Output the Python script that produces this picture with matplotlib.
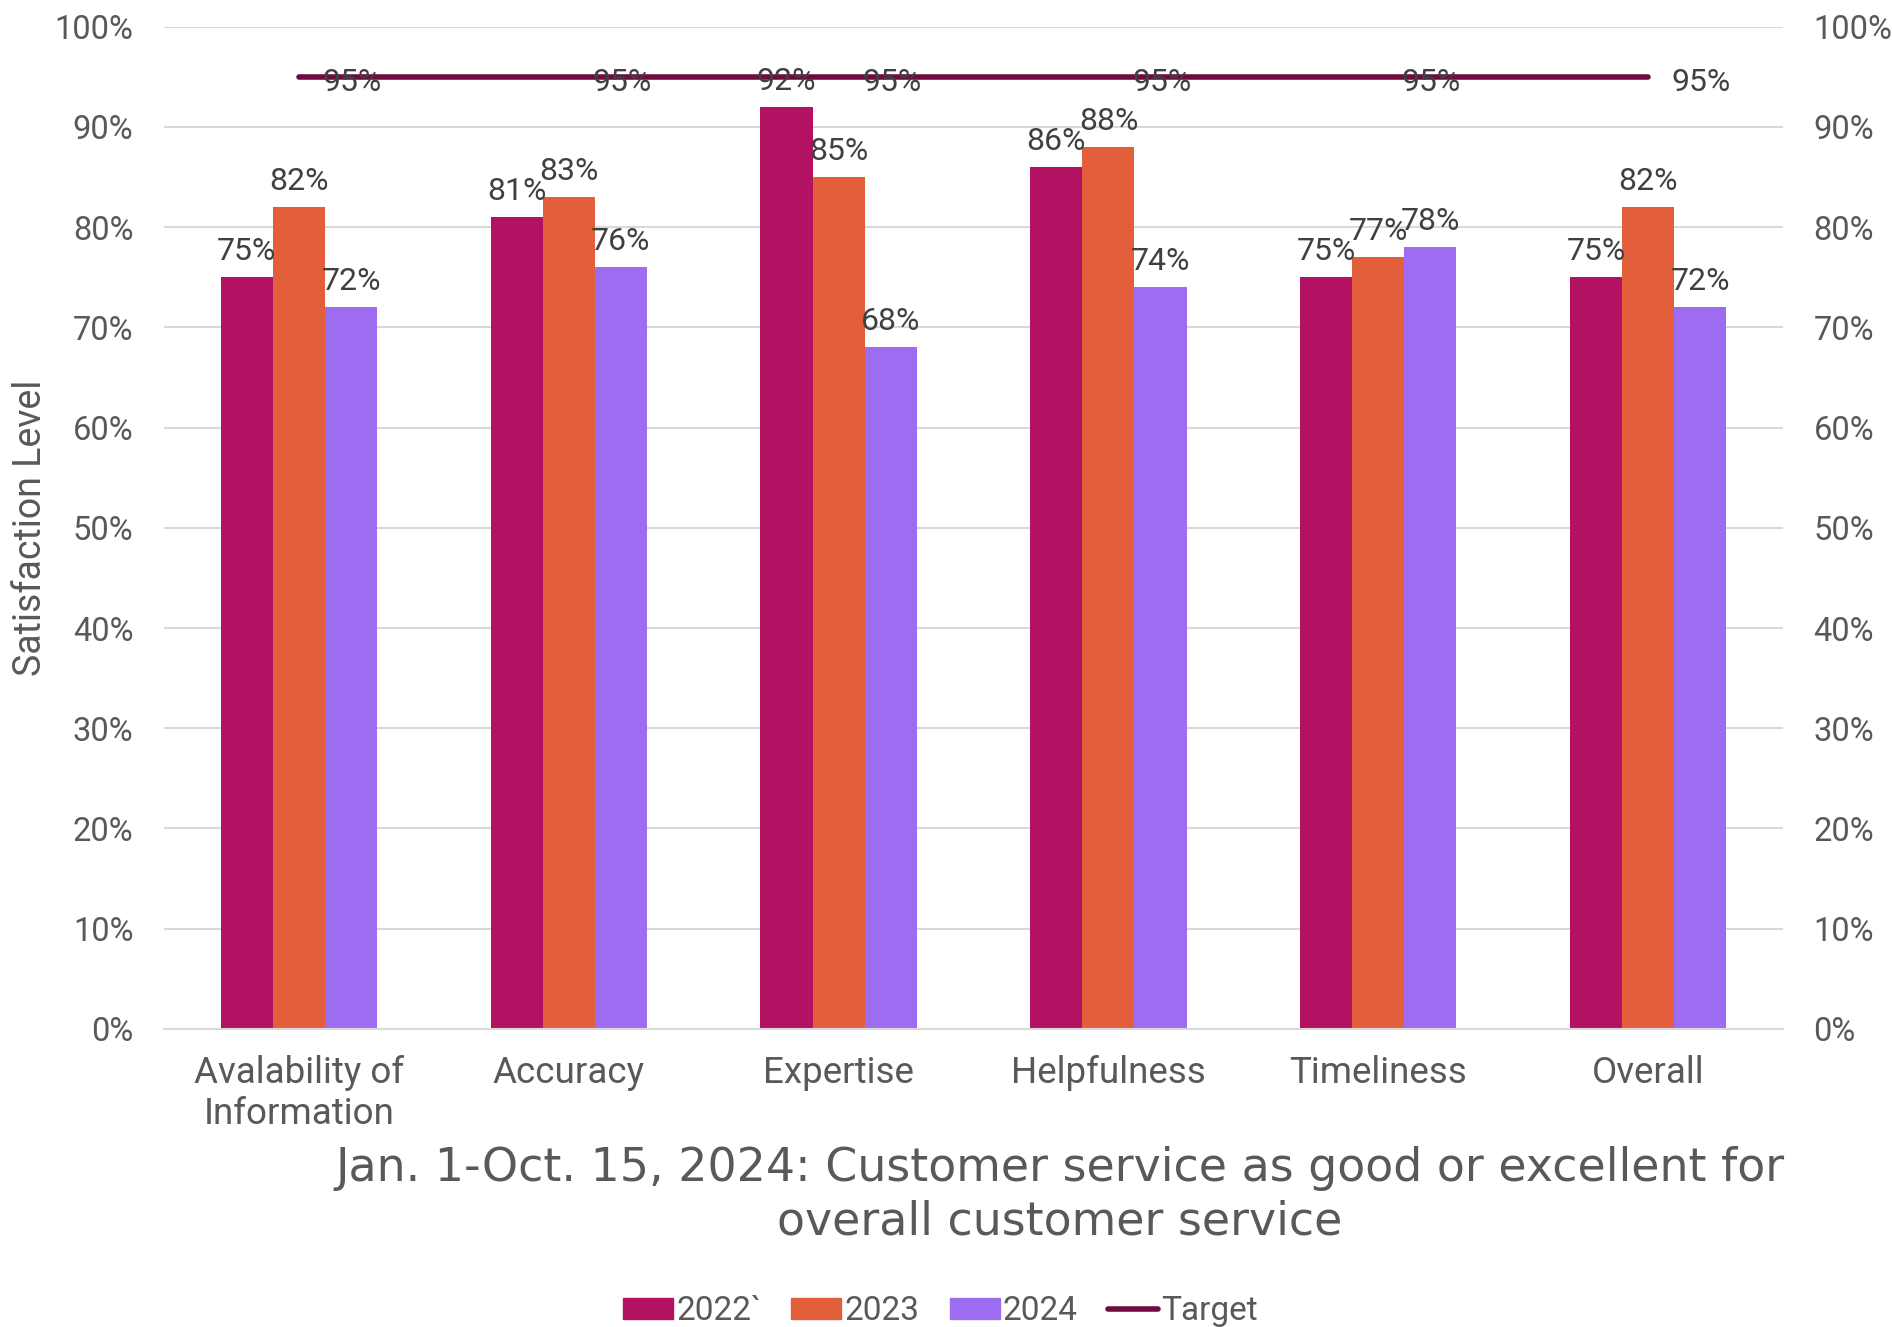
import matplotlib.pyplot as plt
import numpy as np
from matplotlib.ticker import PercentFormatter
from matplotlib.lines import Line2D
from matplotlib.patches import Patch

categories = ["Avalability of\nInformation", "Accuracy", "Expertise",
              "Helpfulness", "Timeliness", "Overall"]
y2022 = [75, 81, 92, 86, 75, 75]
y2023 = [82, 83, 85, 88, 77, 82]
y2024 = [72, 76, 68, 74, 78, 72]
target = [95, 95, 95, 95, 95, 95]

c2022 = "#B31262"
c2023 = "#E35F3C"
c2024 = "#9D6CF0"
ctarget = "#6E0B3F"
grey = "#595959"

plt.rcParams['font.family'] = ['Roboto', 'DejaVu Sans']

fig = plt.figure(figsize=(18.92, 13.27), dpi=100)
ax = fig.add_axes([0.0867, 0.2246, 0.8557, 0.7553])

x = np.arange(len(categories))
w = 0.193

for i, (vals, col) in enumerate([(y2022, c2022), (y2023, c2023), (y2024, c2024)]):
    ax.bar(x + (i - 1) * w, vals, width=w, color=col, zorder=2)
    for xi, v in zip(x + (i - 1) * w, vals):
        ax.annotate(f"{v}%", (xi, v), xytext=(0, 8), textcoords="offset points",
                    ha="center", va="bottom", fontsize=23, color="#404040", zorder=5)

ax.plot(x, target, color=ctarget, lw=4, solid_capstyle="round", zorder=3)
for xi, v in zip(x, target):
    ax.annotate(f"{v}%", (xi, v), xytext=(17, -4), textcoords="offset points",
                ha="left", va="center", fontsize=23, color="#404040", zorder=5)

ax.set_xlim(-0.5, len(categories) - 0.5)
ax.set_ylim(0, 100)
ax.set_yticks(range(0, 101, 10))
ax.yaxis.set_major_formatter(PercentFormatter(decimals=0))
ax.grid(axis="y", color="#D9D9D9", lw=1.5, zorder=0)
ax.set_axisbelow(True)
for s in ["top", "right", "left"]:
    ax.spines[s].set_visible(False)
ax.spines["bottom"].set_color("#D9D9D9")
ax.spines["bottom"].set_linewidth(1.5)
ax.tick_params(axis="y", length=0, labelsize=23.5, labelcolor=grey, pad=22)
ax.tick_params(axis="x", length=0, pad=19)
ax.set_xticks(x)
ax.set_xticklabels(categories, fontsize=26.5, color=grey, linespacing=1.15)
ax.set_ylabel("Satisfaction Level", fontsize=27, color=grey, labelpad=4)

ax2 = ax.twinx()
ax2.set_ylim(0, 100)
ax2.set_yticks(range(0, 101, 10))
ax2.yaxis.set_major_formatter(PercentFormatter(decimals=0))
ax2.tick_params(axis="y", length=0, labelsize=23.5, labelcolor=grey, pad=22)
for s in ["top", "right", "left", "bottom"]:
    ax2.spines[s].set_visible(False)

fig.text(0.56, 0.0995, "Jan. 1-Oct. 15, 2024: Customer service as good or excellent for\noverall customer service",
         ha="center", va="center", fontsize=33, color=grey, linespacing=1.25,
         family=['DejaVu Sans'])

handles = [Patch(color=c2022), Patch(color=c2023), Patch(color=c2024),
           Line2D([0], [0], color=ctarget, lw=4, solid_capstyle="round")]
fig.legend(handles, ["2022`", "2023", "2024", "Target"], loc="center",
           bbox_to_anchor=(0.497, 0.012), ncol=4, frameon=False, fontsize=24,
           labelcolor=grey, handlelength=1.5, handleheight=0.6, handletextpad=0.1,
           columnspacing=0.9)

fig.savefig("out.png", dpi=100)
